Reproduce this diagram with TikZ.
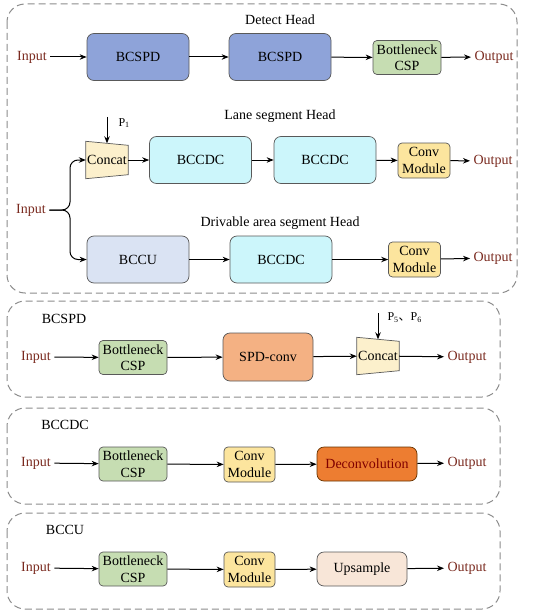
\documentclass[tikz,border=0pt]{standalone}
\usepackage{fontspec}
\setmainfont{Liberation Serif}
\newfontfamily\cjkfont{Noto Sans CJK SC}
\usetikzlibrary{positioning, arrows.meta, backgrounds}

\definecolor{ioRed}{HTML}{7A2A1F}
\definecolor{bcspdBlue}{HTML}{8EA3D9}
\definecolor{cspGreen}{HTML}{C6DDB2}
\definecolor{bccdcCyan}{HTML}{CCF6FB}
\definecolor{convYellow}{HTML}{FCE59E}
\definecolor{catYellow}{HTML}{FCF0CC}
\definecolor{bccuBlue}{HTML}{DAE3F3}
\definecolor{spdOrange}{HTML}{F4B183}
\definecolor{deconvOrange}{HTML}{ED7D31}
\definecolor{upPeach}{HTML}{F8E6D8}

\begin{document}
\begin{tikzpicture}[x=1pt, y=-1pt, font=\fontsize{14}{16.5}\selectfont,
            block/.style={rectangle, draw=black!65, line width=0.7pt, align=center, inner sep=0pt, rounded corners=7pt},
            bigblock/.style={block, minimum width=102pt, minimum height=47pt},
            smallblock/.style={block, rounded corners=4pt, minimum width=68pt, minimum height=34pt},
            convblock/.style={block, rounded corners=4pt, fill=convYellow, minimum width=52pt, minimum height=35pt},
            concat/.style={rectangle, inner sep=0pt, minimum width=42pt, minimum height=37pt},
            catshape/.style={draw=black!65, line width=0.7pt, fill=catYellow},
            io/.style={text=ioRed},
            plabel/.style={font=\fontsize{12}{13}\selectfont},
            frame/.style={draw=black!45, line width=1pt, dash pattern=on 7pt off 4pt, rounded corners=18pt},
            arrow/.style={-{Stealth[length=7pt, width=5.5pt]}, line width=1pt}]

        \useasboundingbox (0,0) rectangle (550,615);

        \draw[frame] (7,4) rectangle (517,293);
        \draw[frame] (7,301) rectangle (500,397);
        \draw[frame] (7,408) rectangle (500,504);
        \draw[frame] (7,513) rectangle (500,609);

        \node (detect) at (280,20) {Detect Head};
        \node[io] (in1) at (32,57) {Input};
        \node[bigblock, fill=bcspdBlue] (bcspd1) at (138,57) {BCSPD};
        \node[bigblock, fill=bcspdBlue] (bcspd2) at (280,57) {BCSPD};
        \node[smallblock, fill=cspGreen] (csp1) at (407,57.5) {Bottleneck\\CSP};
        \node[io] (out1) at (494,57) {Output};

        \draw[arrow] (in1) -- (bcspd1);
        \draw[arrow] (bcspd1) -- (bcspd2);
        \draw[arrow] (bcspd2) -- (csp1);
        \draw[arrow] (csp1) -- (out1);

        \node (lane) at (280,116) {Lane segment Head};
        \coordinate (p1in) at (107,117);
        \node[plabel, anchor=west] (p1) at (115,123) {P\textsubscript{1}};
        \node[concat] (cat1) at (107,160) {Concat};
        \node[bigblock, fill=bccdcCyan] (bccdc1) at (200.5,160) {BCCDC};
        \node[bigblock, fill=bccdcCyan] (bccdc2) at (325,160) {BCCDC};
        \node[convblock] (conv1) at (424,160.5) {Conv\\Module};
        \node[io] (out2) at (493,161) {Output};

        \node[io] (in2) at (31,210) {Input};
        \coordinate (split) at (70,210);

        \node (drive) at (280,223) {Drivable area segment Head};
        \node[bigblock, fill=bccuBlue] (bccu) at (138,259.5) {BCCU};
        \node[bigblock, fill=bccdcCyan] (bccdc3) at (281,259.5) {BCCDC};
        \node[convblock] (conv2) at (414.5,259.5) {Conv\\Module};
        \node[io] (out3) at (493,258) {Output};

        \begin{scope}[on background layer]
            \draw[catshape] (cat1.north west) -- ([yshift=-4pt]cat1.north east) -- ([yshift=4pt]cat1.south east) -- (cat1.south west) -- cycle;
        \end{scope}

        \draw[arrow] (p1in) -- ([yshift=-2pt]cat1.north);
        \draw[arrow] (cat1) -- (bccdc1);
        \draw[arrow] (bccdc1) -- (bccdc2);
        \draw[arrow] (bccdc2) -- (conv1);
        \draw[arrow] (conv1) -- (out2);
        \draw[arrow, rounded corners=8pt] (in2.east) -- (split) |- (cat1.west);
        \draw[arrow, rounded corners=8pt] (in2.east) -- (split) |- (bccu.west);
        \draw[arrow] (bccu) -- (bccdc3);
        \draw[arrow] (bccdc3) -- (conv2);
        \draw[arrow] (conv2) -- (out3);

        \node (t2) at (64,319) {BCSPD};
        \node[io] (in3) at (36,357) {Input};
        \node[smallblock, fill=cspGreen] (csp2) at (133,357.5) {Bottleneck\\CSP};
        \node[block, fill=spdOrange, minimum width=90pt, minimum height=48pt] (spd) at (268,357) {SPD-conv};
        \coordinate (p5in) at (378,313);
        \node[plabel, anchor=west] (p5) at (384,318) {P\textsubscript{5}{\cjkfont 、}P\textsubscript{6}};
        \node[concat] (cat2) at (378,356) {Concat};
        \node[io] (out4) at (467,357) {Output};

        \begin{scope}[on background layer]
            \draw[catshape] (cat2.north west) -- ([yshift=-4pt]cat2.north east) -- ([yshift=4pt]cat2.south east) -- (cat2.south west) -- cycle;
        \end{scope}

        \draw[arrow] (in3) -- (csp2);
        \draw[arrow] (csp2) -- (spd);
        \draw[arrow] (spd) -- (cat2);
        \draw[arrow] (p5in) -- ([yshift=-2pt]cat2.north);
        \draw[arrow] (cat2) -- (out4);

        \node (t3) at (65,425) {BCCDC};
        \node[io] (in4) at (36,463) {Input};
        \node[smallblock, fill=cspGreen] (csp3) at (133,464) {Bottleneck\\CSP};
        \node[convblock, minimum width=51pt] (conv3) at (249.5,464.5) {Conv\\Module};
        \node[block, fill=deconvOrange, draw=black!60!orange, text=red!50!black, minimum width=100pt, minimum height=34pt] (deconv) at (367,464) {Deconvolution};
        \node[io] (out5) at (467,463) {Output};

        \draw[arrow] (in4) -- (csp3);
        \draw[arrow] (csp3) -- (conv3);
        \draw[arrow] (conv3) -- (deconv);
        \draw[arrow] (deconv) -- (out5);

        \node (t4) at (65,530) {BCCU};
        \node[io] (in5) at (36,568) {Input};
        \node[smallblock, fill=cspGreen] (csp4) at (133,569) {Bottleneck\\CSP};
        \node[convblock, minimum width=51pt] (conv4) at (249.5,569.5) {Conv\\Module};
        \node[block, fill=upPeach, minimum width=90pt, minimum height=34pt] (ups) at (362,569) {Upsample};
        \node[io] (out6) at (467,568) {Output};

        \draw[arrow] (in5) -- (csp4);
        \draw[arrow] (csp4) -- (conv4);
        \draw[arrow] (conv4) -- (ups);
        \draw[arrow] (ups) -- (out6);
    \end{tikzpicture}
\end{document}
